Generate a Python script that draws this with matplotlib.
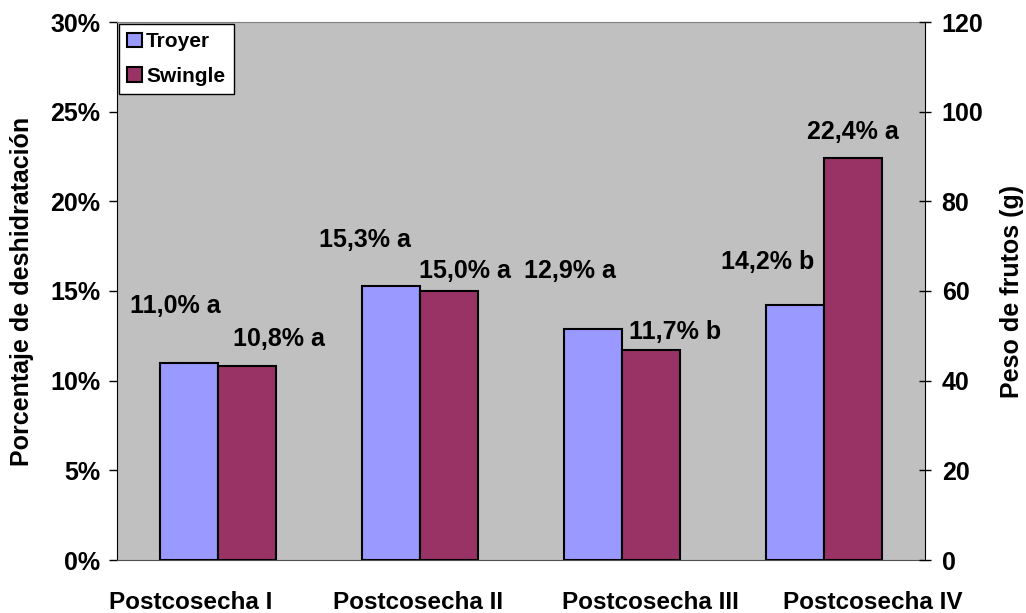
import matplotlib.pyplot as plt
import matplotlib.transforms as mtransforms
import numpy as np
from matplotlib.ticker import FuncFormatter

plt.rcParams['font.family'] = ['Liberation Sans', 'DejaVu Sans']
plt.rcParams['font.weight'] = 'bold'

categories = ["Postcosecha I", "Postcosecha II", "Postcosecha III", "Postcosecha IV"]
troyer = [11.0, 15.3, 12.9, 14.2]
swingle = [10.8, 15.0, 11.7, 22.4]
troyer_letters = ["a", "a", "a", "b"]
swingle_letters = ["a", "a", "b", "a"]

# label offsets in pixels (dx, dy) from bar top centre
troyer_off = [(-14, 57), (-26, 46), (-23, 58), (-27, 43)]
swingle_off = [(32, 27), (16, 20), (24, 18), (0, 26)]
# horizontal shift of category labels, pixels
cat_shift = [-27, -2, 28, 49]

fig = plt.figure(figsize=(10.26, 6.13), dpi=100)
ax = fig.add_axes([117/1026, 1 - 560/613, 808/1026, 538/613])
ax.set_facecolor('#C0C0C0')

x = np.arange(len(categories)) + 0.5
w = 0.287
ax.bar(x - w/2, troyer, w, color='#9999FF', edgecolor='black', linewidth=1.5, label='Troyer', zorder=3)
ax.bar(x + w/2, swingle, w, color='#993366', edgecolor='black', linewidth=1.5, label='Swingle', zorder=3)

def fmt(v):
    return ("%.1f%%" % v).replace('.', ',')

for xi, v, l, (dx, dy) in zip(x - w/2, troyer, troyer_letters, troyer_off):
    ax.annotate(fmt(v) + " " + l, (xi, v), xytext=(dx*0.72, dy*0.72), textcoords='offset points',
                ha='center', va='center', fontsize=18, fontweight='bold')
for xi, v, l, (dx, dy) in zip(x + w/2, swingle, swingle_letters, swingle_off):
    ax.annotate(fmt(v) + " " + l, (xi, v), xytext=(dx*0.72, dy*0.72), textcoords='offset points',
                ha='center', va='center', fontsize=18, fontweight='bold')

ax.set_xlim(0, 4)
ax.set_ylim(0, 30)
ax.set_yticks(np.arange(0, 31, 5))
ax.yaxis.set_major_formatter(FuncFormatter(lambda v, p: "%d%%" % v))
ax.set_xticks(x)
ax.set_xticklabels(categories, fontsize=17.5, fontweight='bold')
ax.tick_params(axis='x', length=0, pad=22)
for lab, s in zip(ax.get_xticklabels(), cat_shift):
    lab.set_transform(lab.get_transform() + mtransforms.ScaledTranslation(s/100, 0, fig.dpi_scale_trans))
ax.tick_params(axis='y', labelsize=18, length=6, width=1, direction='out', pad=6)
ax.set_ylabel("Porcentaje de deshidratación", fontsize=18, fontweight='bold', labelpad=12)

ax.spines['top'].set_color('#808080')
ax.spines['bottom'].set_color('#505050')
ax.spines['left'].set_color('black')
ax.spines['right'].set_visible(False)

ax2 = ax.twinx()
ax2.set_ylim(0, 120)
ax2.set_yticks(np.arange(0, 121, 20))
ax2.tick_params(axis='y', labelsize=18, length=8, width=1, direction='inout', pad=8)
ax2.set_ylabel("Peso de frutos (g)", fontsize=18, fontweight='bold', labelpad=12)
for s in ['top', 'bottom', 'left']:
    ax2.spines[s].set_visible(False)
ax2.spines['right'].set_color('black')

leg = ax.legend(loc='upper left', bbox_to_anchor=(0, 1), frameon=True, fancybox=False,
                edgecolor='black', framealpha=1, facecolor='white', handlelength=0.7, handleheight=0.7,
                handletextpad=0.2, borderaxespad=0.1, labelspacing=0.75, borderpad=0.4,
                prop={'weight': 'bold', 'size': 15})
leg.get_frame().set_linewidth(1)

fig.savefig('out.png', dpi=100)
